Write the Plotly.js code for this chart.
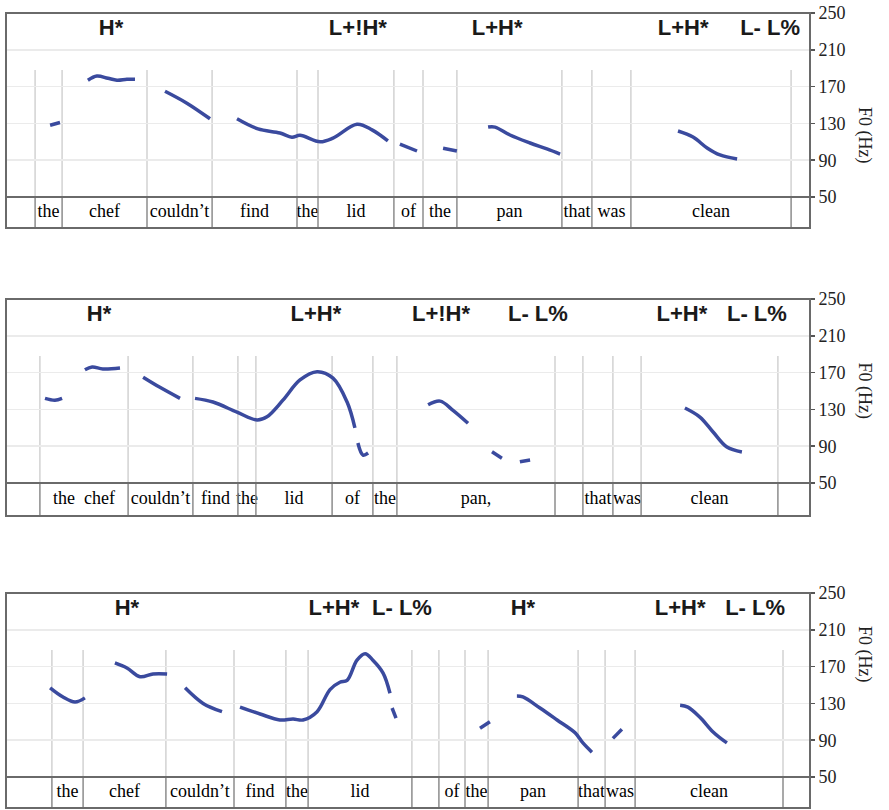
<!DOCTYPE html>
<html><head><meta charset="utf-8">
<script src="https://cdn.plot.ly/plotly-3.0.1.min.js"></script>
<style>html,body{margin:0;padding:0;background:#fff}#chart{width:889px;height:810px}</style>
</head><body><div id="chart"></div>
<script>
// ---------- DATA (time in s, F0 in Hz) ----------
// Panel 1
const p1Bounds = [0.097,0.187,0.470,0.687,0.970,1.040,1.293,1.390,1.503,1.853,1.953,2.083,2.617];
const p1Words = ['the','chef','couldn\u2019t','find','the','lid','of','the','pan','that','was','clean'];
const p1Tones = ['H*','L+!H*','L+H*','L+H*','L- L%'];
const p1ToneT = [0.350,1.173,1.637,2.257,2.547];
const p1T = [0.147,0.180,null, 0.273,0.303,0.340,0.370,0.403,0.430,null, 0.530,0.603,0.680,null,
  0.770,0.840,0.913,0.953,0.980,1.047,1.090,1.170,1.220,1.273,null, 1.313,1.370,null, 1.457,1.503,null,
  1.607,1.630,1.680,1.747,1.803,1.847,null, 2.240,2.290,2.337,2.380,2.437];
const p1F = [128,131,null, 177,181.5,179,177,178,178,null, 165,152,135,null,
  135,124,119.6,115,117,110,114,129,123,111,null, 107.6,100,null, 103,100,null,
  126,126,117.4,108.7,102.2,96.7,null, 121.7,115.2,103.3,95.7,91.3];

// Panel 2
const p2Bounds = [0.113,0.407,0.623,0.773,0.833,1.087,1.223,1.303,1.830,1.923,2.023,2.117,2.573];
const p2Words = ['the\u00a0\u00a0chef','couldn\u2019t','find','the','lid','of','the','pan,','','that','was','clean'];
const p2Tones = ['H*','L+H*','L+!H*','L- L%','L+H*','L- L%'];
const p2ToneT = [0.310,1.033,1.450,1.773,2.253,2.503];
const p2T = [0.130,0.163,0.187,null, 0.263,0.287,0.323,0.380,null, 0.457,0.513,0.580,null,
  0.630,0.690,0.770,0.837,0.870,0.923,0.980,1.037,1.090,1.137,1.163,null, 1.173,1.190,1.207,null,
  1.407,1.447,1.490,1.540,null, 1.620,1.653,null, 1.713,1.747,null, 2.263,2.313,2.357,2.403,2.453];
const p2F = [142,140,142,null, 173,176,174,175,null, 165,154,142,null,
  142,138,127,118.5,122,140,162,171,164,138,110,null, 93.5,80.4,82.6,null,
  135,139,129,115,null, 84,77,null, 73,75,null, 131.5,121.7,105.4,89.1,83.7];

// Panel 3
const p3Bounds = [0.153,0.257,0.533,0.760,0.933,1.007,1.353,1.443,1.530,1.607,1.907,1.997,2.097,2.590];
const p3Words = ['the','chef','couldn\u2019t','find','the','lid','','of','the','pan','that','was','clean'];
const p3Tones = ['H*','L+H*','L- L%','H*','L+H*','L- L%'];
const p3ToneT = [0.403,1.093,1.320,1.723,2.247,2.497];
const p3T = [0.147,0.190,0.230,0.263,null, 0.363,0.403,0.447,0.490,0.537,null, 0.597,0.657,0.720,null,
  0.780,0.847,0.913,0.957,0.990,1.037,1.080,1.113,1.137,1.170,1.197,1.223,1.257,1.280,null,
  1.287,1.300,null, 1.580,1.613,null, 1.703,1.723,1.780,1.837,1.897,1.923,1.953,null,
  2.023,2.053,null, 2.247,2.273,2.313,2.357,2.403];
const p3F = [147,137,131.5,136,null, 174,168.5,159,162,162,null, 147,130,121,null,
  126,118.5,112,113,112,121,145,153,155,177,184,177,163,141,null,
  125,114,null, 103,110,null, 138,137,125,112,98,87,77,null,
  92,102,null, 128,126,115,99,87];

const yTicks = [50,90,130,170,210,250];

// ---------- LAYOUT ----------
const W = 889, H = 810;
const X0 = 6, X1 = 810;
const panelsPx = [ {top:13, tier:197, bot:228}, {top:299, tier:483, bot:516}, {top:593, tier:777, bot:808} ];
const panels = [
  {T:p1T, F:p1F, bounds:p1Bounds, words:p1Words, tones:p1Tones, toneT:p1ToneT},
  {T:p2T, F:p2F, bounds:p2Bounds, words:p2Words, tones:p2Tones, toneT:p2ToneT},
  {T:p3T, F:p3F, bounds:p3Bounds, words:p3Words, tones:p3Tones, toneT:p3ToneT}
];
const py = v => 1 - v / H;
const px = v => v / W;

const layout = {
  width: W, height: H,
  margin: {l:0, r:0, t:0, b:0},
  paper_bgcolor: '#ffffff', plot_bgcolor: 'rgba(0,0,0,0)',
  showlegend: false,
  shapes: [], annotations: []
};
const traces = [];
const serif = 'Liberation Serif, Times New Roman, serif';
const sans = 'Liberation Sans, Arial, sans-serif';

panels.forEach((p, i) => {
  const n = i + 1;
  const pp = panelsPx[i];
  const xa = 'xaxis' + (n === 1 ? '' : n);
  const ya = 'yaxis' + (n === 1 ? '' : n);
  const tierN = n + 3;
  const xid = 'x' + (n === 1 ? '' : n);
  const yid = 'y' + (n === 1 ? '' : n);
  const tid = 'y' + tierN;

  layout[xa] = {domain:[px(X0), px(X1)], range:[0, 2.68], visible:false, anchor:yid, fixedrange:true};
  layout[ya] = {domain:[py(pp.tier), py(pp.top)], range:[50,250], anchor:xid, side:'right',
    tickvals: yTicks, ticktext: yTicks.map(String), ticks:'outside', ticklen:4, tickwidth:1.5,
    tickcolor:'#555', tickfont:{family:serif, size:18, color:'#222'},
    showgrid:true, gridcolor:'#ebebeb', gridwidth:1.5, zeroline:false, showline:false, fixedrange:true};
  layout['yaxis' + tierN] = {domain:[py(pp.bot), py(pp.tier)], range:[0,1], anchor:xid, visible:false, fixedrange:true};

  // boundaries
  p.bounds.forEach(b => {
    layout.shapes.push({type:'line', xref:xid, yref:yid, x0:b, x1:b, y0:50, y1:188,
      line:{color:'#d2d2d2', width:1.5}, layer:'below'});
    layout.shapes.push({type:'line', xref:xid, yref:tid, x0:b, x1:b, y0:0, y1:1,
      line:{color:'#8c8c8c', width:1.5}});
  });
  // box & tier line
  layout.shapes.push({type:'rect', xref:'paper', yref:'paper', x0:px(X0), x1:px(X1), y0:py(pp.bot), y1:py(pp.top),
    line:{color:'#6a6a6a', width:2}, fillcolor:'rgba(0,0,0,0)'});
  layout.shapes.push({type:'line', xref:'paper', yref:'paper', x0:px(X0), x1:px(X1), y0:py(pp.tier), y1:py(pp.tier),
    line:{color:'#6a6a6a', width:2}});

  // F0 axis title
  layout.annotations.push({xref:'paper', yref:'paper', x:px(877), y:py((pp.top + pp.tier)/2),
    text:'F0 (Hz)', textangle:90, showarrow:false, font:{family:serif, size:18, color:'#222'}});

  // pitch track
  traces.push({type:'scatter', mode:'lines', x:p.T, y:p.F, xaxis:xid, yaxis:yid,
    line:{color:'#3a4a9e', width:3.5, shape:'spline', smoothing:1}, connectgaps:false, hoverinfo:'skip'});

  // tone labels
  traces.push({type:'scatter', mode:'text', x:p.toneT, y:p.toneT.map(() => 232), text:p.tones,
    xaxis:xid, yaxis:tid === '' ? yid : yid, textposition:'middle center', cliponaxis:false, hoverinfo:'skip',
    textfont:{family:sans, size:22, color:'#1a1a1a', weight:'bold'}});

  // words
  const mids = p.words.map((w, k) => (p.bounds[k] + p.bounds[k+1]) / 2);
  traces.push({type:'scatter', mode:'text', x:mids, y:mids.map(() => 0.5), text:p.words,
    xaxis:xid, yaxis:tid, textposition:'middle center', cliponaxis:false, hoverinfo:'skip',
    textfont:{family:serif, size:18, color:'#000000'}});
});

Plotly.newPlot('chart', traces, layout, {staticPlot:true, displayModeBar:false});
</script>
</body></html>
